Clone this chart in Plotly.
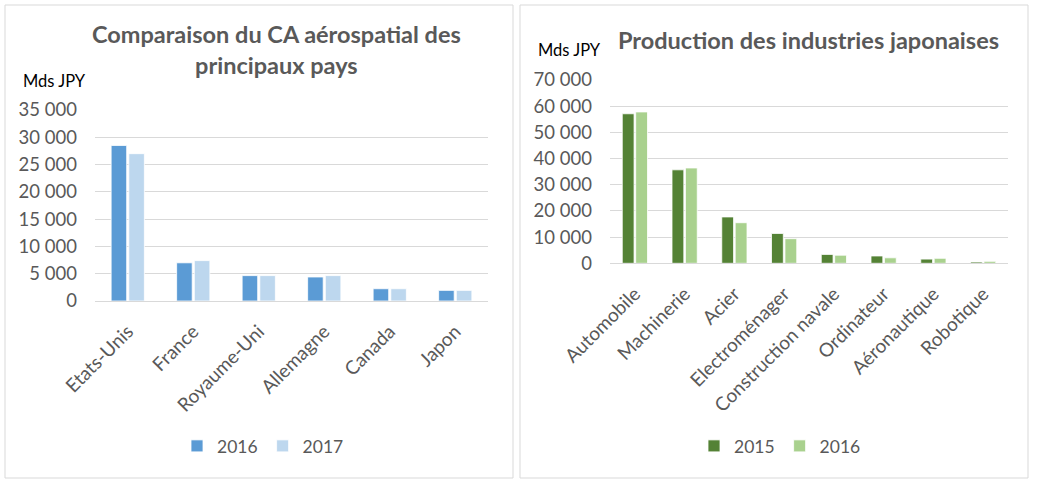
import plotly.graph_objects as go

# left chart: aerospace turnover by country
pays = ["Etats-Unis", "France", "Royaume-Uni", "Allemagne", "Canada", "Japon"]
ca_2016 = [28500, 7000, 4650, 4400, 2250, 1950]
ca_2017 = [27000, 7400, 4650, 4650, 2250, 1950]

# right chart: japanese industries output
industries = ["Automobile", "Machinerie", "Acier", "Electroménager",
              "Construction navale", "Ordinateur", "Aéronautique", "Robotique"]
prod_2015 = [57100, 35700, 17700, 11400, 3400, 2800, 1600, 500]
prod_2016 = [57800, 36400, 15500, 9400, 3100, 2100, 1900, 750]

W, H = 1037, 482
FONT = "Lato"
GRAY = "#595959"
GRID = "#D9D9D9"

fig = go.Figure()

fig.add_trace(go.Bar(x=pays, y=ca_2016, name="2016", marker_color="#5B9BD5",
                     marker_line=dict(color="white", width=0.8),
                     xaxis="x", yaxis="y", legend="legend"))
fig.add_trace(go.Bar(x=pays, y=ca_2017, name="2017", marker_color="#BDD7EE",
                     marker_line=dict(color="white", width=0.8),
                     xaxis="x", yaxis="y", legend="legend"))
fig.add_trace(go.Bar(x=industries, y=prod_2015, name="2015", marker_color="#548235",
                     marker_line=dict(color="white", width=0.8),
                     xaxis="x2", yaxis="y2", legend="legend2"))
fig.add_trace(go.Bar(x=industries, y=prod_2016, name="2016", marker_color="#A9D18E",
                     marker_line=dict(color="white", width=0.8),
                     xaxis="x2", yaxis="y2", legend="legend2"))


def px_x(v):
    return v / W


def px_y(v):
    return 1 - v / H


xaxis_style = dict(tickangle=-45, showgrid=False, showline=True, linecolor=GRID,
                   linewidth=1, ticks="", automargin=False, ticklabelstandoff=11,
                   tickfont=dict(size=19, color=GRAY, family=FONT), fixedrange=True)
yaxis_style = dict(showgrid=True, gridcolor=GRID, gridwidth=1, zeroline=False,
                   showline=False, ticks="", tickformat=",d", automargin=False,
                   ticklabelstandoff=17,
                   tickfont=dict(size=18.5, color=GRAY, family=FONT), fixedrange=True)

legend_style = dict(orientation="h", xanchor="center", yanchor="middle",
                    font=dict(size=17.5, color=GRAY, family=FONT),
                    bgcolor="rgba(0,0,0,0)", itemwidth=30)

fig.update_layout(
    width=W, height=H,
    margin=dict(l=0, r=0, t=0, b=0, autoexpand=False),
    paper_bgcolor="white", plot_bgcolor="white",
    separators=", ",
    barmode="group", bargap=0.46, bargroupgap=0.12,
    font=dict(family=FONT, color=GRAY),
    xaxis=dict(domain=[px_x(95), px_x(488)], anchor="y", **xaxis_style),
    yaxis=dict(domain=[px_y(301), px_y(110)], anchor="x", range=[0, 35000],
               dtick=5000, **yaxis_style),
    xaxis2=dict(domain=[px_x(610), px_x(1008)], anchor="y2", **xaxis_style),
    yaxis2=dict(domain=[px_y(263.3), px_y(80)], anchor="x2", range=[0, 70000],
                dtick=10000, **yaxis_style),
    legend=dict(x=px_x(263), y=px_y(446), **legend_style),
    legend2=dict(x=px_x(780), y=px_y(446), **legend_style),
    showlegend=True,
)

# panel borders
for x0, x1 in [(5, 513), (520, 1028)]:
    fig.add_shape(type="rect", xref="paper", yref="paper",
                  x0=px_x(x0), x1=px_x(x1), y0=px_y(478), y1=px_y(5),
                  line=dict(color=GRID, width=1), fillcolor="rgba(0,0,0,0)")

title_font = dict(size=23.5, color=GRAY, family=FONT)
unit_font = dict(size=16.5, color="black", family=FONT)
fig.add_annotation(x=px_x(276), y=px_y(50), xref="paper", yref="paper",
                   xanchor="center", yanchor="middle",
                   text="<b>Comparaison du CA aérospatial des<br>principaux pays</b>",
                   showarrow=False, font=title_font, align="center")
fig.add_annotation(x=px_x(808), y=px_y(40), xref="paper", yref="paper",
                   xanchor="center", yanchor="middle",
                   text="<b>Production des industries japonaises</b>",
                   showarrow=False, font=title_font, align="center")
fig.add_annotation(x=px_x(21), y=px_y(81), xref="paper", yref="paper",
                   xanchor="left", yanchor="middle", text="Mds JPY",
                   showarrow=False, font=unit_font)
fig.add_annotation(x=px_x(536), y=px_y(50), xref="paper", yref="paper",
                   xanchor="left", yanchor="middle", text="Mds JPY",
                   showarrow=False, font=unit_font)

fig.write_html("out.html", config={"displayModeBar": False},
               post_script="document.body.style.margin='0';")
